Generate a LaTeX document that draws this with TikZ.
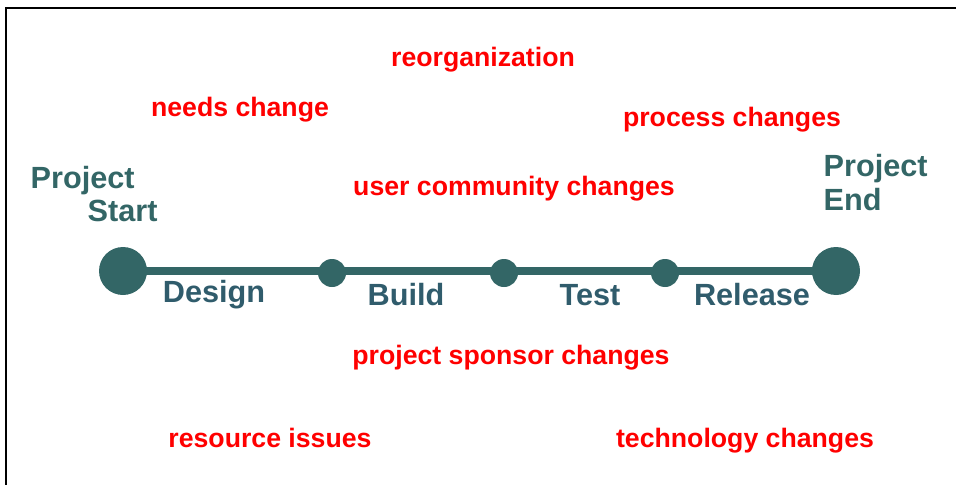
\documentclass[tikz,border=0pt]{standalone}
\usepackage{fontspec}
\setmainfont{Liberation Sans}
\usetikzlibrary{positioning}

\definecolor{teal}{HTML}{336666}
\definecolor{phase}{HTML}{305C6C}
\definecolor{risk}{HTML}{FF0000}

\begin{document}
\begin{tikzpicture}[x=0.75pt,y=-0.75pt,
  milestone/.style={circle,fill=teal,inner sep=0pt,minimum size=#1},
  risk/.style={text=risk,font=\fontsize{20}{24}\selectfont\bfseries},
  phaselabel/.style={text=phase,font=\fontsize{23}{27}\selectfont\bfseries},
  endlabel/.style={text=teal,font=\fontsize{23}{27}\selectfont\bfseries,anchor=west}]
\useasboundingbox (0,0) rectangle (956,485);
\draw[line width=1.5pt] (5.5,485) -- (5.5,8.3) -- (956,8.3);

% timeline with milestones
\coordinate (s) at (123,271);
\coordinate (e) at (836,271);
\draw[teal,line width=6pt] (s) -- (e);
\node[milestone=36pt] (start) at (s) {};
\node[milestone=21pt] (m1) at (332,273) {};
\node[milestone=21pt] (m2) at (504,273) {};
\node[milestone=21pt] (m3) at (665,273) {};
\node[milestone=36pt] (end) at (e) {};

\node[endlabel] (ps1) at (26,181) {Project};
\node[endlabel] (ps2) at (83,211) {Start};
\node[endlabel] (pe1) at (819,169) {Project};
\node[endlabel] (pe2) at (819,200) {End};

\node[phaselabel] (design) at (214,295) {Design};
\node[phaselabel] (build) at (406,295) {Build};
\node[phaselabel] (test) at (590,295) {Test};
\node[phaselabel] (release) at (752,295) {Release};

% things that change along the way
\node[risk] (reorg) at (483,60) {reorganization};
\node[risk] (needs) at (240,110) {needs change};
\node[risk] (process) at (732,120) {process changes};
\node[risk] (users) at (514,189) {user community changes};
\node[risk] (sponsor) at (511,358) {project sponsor changes};
\node[risk] (resource) at (270,438) {resource issues};
\node[risk] (tech) at (745,441) {technology changes};
\end{tikzpicture}
\end{document}
